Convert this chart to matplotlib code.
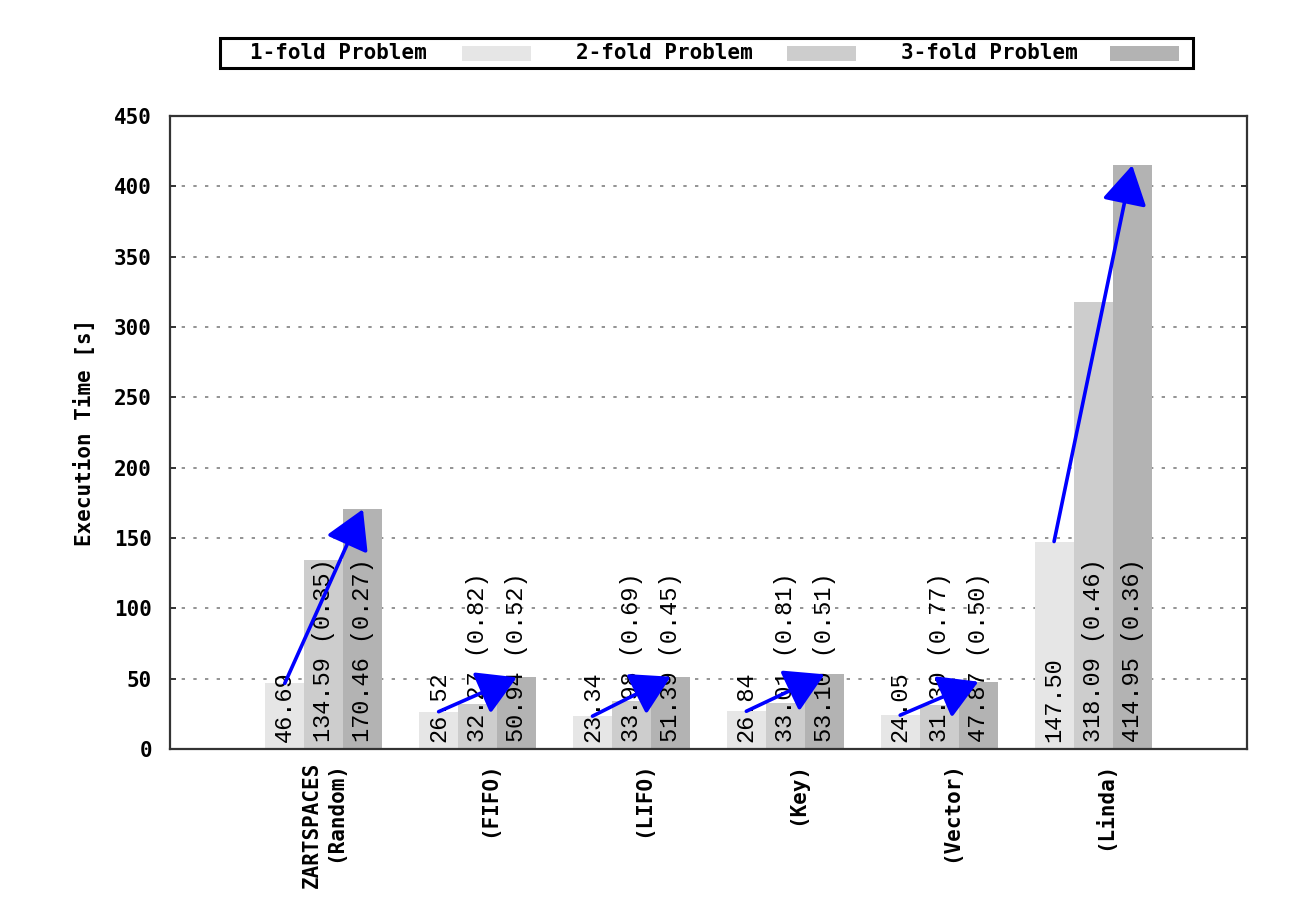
import matplotlib
matplotlib.use("Agg")
from matplotlib import pyplot as plt
from matplotlib.patches import Rectangle
import numpy as np

''' data '''
groups = ["ZARTSPACES\n(Random)", "\n(FIFO)", "\n(LIFO)", "\n(Key)", "\n(Vector)", "\n(Linda)"]
series = ["1-fold Problem", "2-fold Problem", "3-fold Problem"]
fold1 = [46.69, 26.52, 23.34, 26.84, 24.05, 147.50]
fold2 = [134.59, 32.27, 33.98, 33.01, 31.30, 318.09]
fold3 = [170.46, 50.94, 51.39, 53.10, 47.87, 414.95]
ratio2 = ["0.35", "0.82", "0.69", "0.81", "0.77", "0.46"]
ratio3 = ["0.27", "0.52", "0.45", "0.51", "0.50", "0.36"]
yticks = [0, 50, 100, 150, 200, 250, 300, 350, 400, 450]

colors = ["#e6e6e6", "#cdcdcd", "#b3b3b3"]
tickFont = dict(family="DejaVu Sans Mono", weight="bold", size=15)
valFont = dict(family="Liberation Mono", size=17)

W, H = 1291, 919
fig = plt.figure(figsize=(W / 100, H / 100), dpi=100)
ax = fig.add_axes([170 / W, 1 - 749 / H, (1247 - 170) / W, (749 - 116) / H])

''' bars '''
x = np.arange(len(groups))
bw = 0.254
for k, vals in enumerate([fold1, fold2, fold3]):
    ax.bar(x + (k - 1) * bw, vals, width=bw, color=colors[k], zorder=2)

''' value labels inside the bars '''
for i in range(len(groups)):
    ax.text(x[i] - bw, 5, "%.2f" % fold1[i], rotation=90, ha="center", va="bottom",
            zorder=3, **valFont)
    ax.text(x[i], 5, "%.2f (%s)" % (fold2[i], ratio2[i]), rotation=90, ha="center",
            va="bottom", zorder=3, **valFont)
    ax.text(x[i] + bw, 5, "%.2f (%s)" % (fold3[i], ratio3[i]), rotation=90, ha="center",
            va="bottom", zorder=3, **valFont)

''' growth arrows from 1-fold to 3-fold '''
for i in range(len(groups)):
    ax.annotate("", xy=(x[i] + bw, fold3[i]), xytext=(x[i] - bw, fold1[i]),
                arrowprops=dict(arrowstyle="-|>,head_length=1.2,head_width=0.7",
                                mutation_scale=20, color="blue", lw=2.6,
                                shrinkA=0, shrinkB=0),
                zorder=4)

''' axes '''
ax.set_xlim(-1, 6)
ax.set_ylim(0, 450)
ax.set_yticks(yticks)
ax.set_yticklabels([str(t) for t in yticks], **tickFont)
ax.set_xticks(x)
ax.set_xticklabels(groups, rotation=90, ha="center", va="top", multialignment="right",
                   **tickFont)
ax.tick_params(axis="y", direction="in", length=4, width=1.4, left=True, right=True,
               pad=13, color="#333333")
ax.tick_params(axis="x", length=0, pad=9)
ax.set_ylabel("Execution Time [s]", labelpad=14, **tickFont)
ax.yaxis.grid(True, linestyle=(0, (2, 5)), linewidth=1.2, color="#808080", zorder=1)
ax.set_axisbelow(True)
for s in ax.spines.values():
    s.set_linewidth(1.6)
    s.set_color("#333333")

''' key box on top '''
def fx(px):
    return px / W

def fy(py):
    return 1 - py / H

fig.patches.append(Rectangle((fx(220), fy(68)), fx(1193) - fx(220), fy(38) - fy(68),
                             transform=fig.transFigure, fill=False, lw=2.2,
                             edgecolor="black"))
textCenters = [338, 664, 989]
swatchLeft = [462, 787, 1110]
for k in range(3):
    fig.text(fx(textCenters[k]), fy(53), series[k], ha="center", va="center", **tickFont)
    fig.patches.append(Rectangle((fx(swatchLeft[k]), fy(61)), fx(69), fy(46) - fy(61),
                                 transform=fig.transFigure, color=colors[k], lw=0))

plt.savefig("out.png", dpi=100)
